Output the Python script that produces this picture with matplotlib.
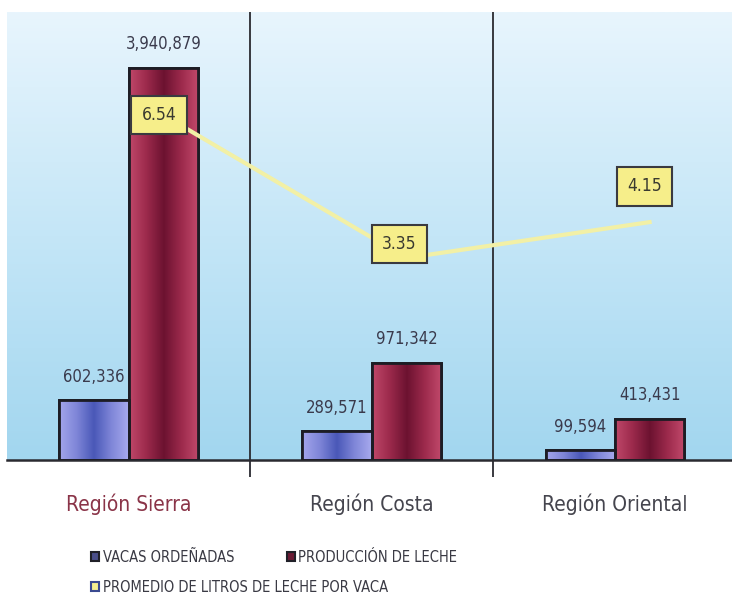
import numpy as np
import matplotlib
matplotlib.use("Agg")
import matplotlib.pyplot as plt
from matplotlib.colors import LinearSegmentedColormap
from matplotlib.patches import Patch

plt.rcParams['font.family'] = ['DejaVu Sans']
plt.rcParams['font.stretch'] = 'condensed'

categories = ["Región Sierra", "Región Costa", "Región Oriental"]
vacas = [602336, 289571, 99594]
produccion = [3940879, 971342, 413431]
promedio = [6.54, 3.35, 4.15]
vacas_labels = ["602,336", "289,571", "99,594"]
prod_labels = ["3,940,879", "971,342", "413,431"]
prom_labels = ["6.54", "3.35", "4.15"]
legend_row1 = ["VACAS ORDEÑADAS", "PRODUCCIÓN DE LECHE"]
legend_row2 = ["PROMEDIO DE LITROS DE LECHE POR VACA"]

W, H = 732, 599
fig = plt.figure(figsize=(W / 100, H / 100), dpi=100)
fig.patch.set_facecolor("white")
left_px, right_px, top_px, base_px = 7, 736.5, 12, 460
ax = fig.add_axes([left_px / W, (H - base_px) / H, (right_px - left_px) / W, (base_px - top_px) / H])
ax.set_xlim(-0.5, 2.5)
ax.set_ylim(0, 4.5e6)

bg = LinearSegmentedColormap.from_list("bg", ["#a2d6ef", "#c4e6f7", "#e8f5fd"])
grad = np.linspace(0, 1, 256).reshape(-1, 1)
ax.imshow(grad, cmap=bg, origin="lower", aspect="auto",
          extent=[-0.5, 2.5, 0, 4.5e6], zorder=0)

x = np.arange(len(categories))
bw = 0.285
blue_cm = LinearSegmentedColormap.from_list("b", ["#a4a6ec", "#7f86d8", "#4a58b8", "#7f86d8", "#a8aaee"])
red_cm = LinearSegmentedColormap.from_list("r", ["#c0486a", "#9c2a4c", "#6c1230", "#9c2a4c", "#c24a6c"])
hgrad = np.linspace(0, 1, 256).reshape(1, -1)

def gbars(xs, vals, cmap, base_color):
    bars = ax.bar(xs, vals, width=bw, color=base_color, edgecolor="#1c1c24",
                  linewidth=2, zorder=2)
    for b in bars:
        im = ax.imshow(hgrad, cmap=cmap, aspect="auto",
                       extent=[b.get_x(), b.get_x() + b.get_width(), 0, b.get_height()],
                       zorder=2.5)
        im.set_clip_path(b)
        ax.add_patch(plt.Rectangle((b.get_x(), 0), b.get_width(), b.get_height(),
                                   fill=False, edgecolor="#1c1c24", linewidth=2, zorder=3))
    return bars

gbars(x - bw / 2, vacas, blue_cm, "#7f86d8")
gbars(x + bw / 2, produccion, red_cm, "#9c2a4c")

for xi, v, lab in zip(x, vacas, vacas_labels):
    ax.annotate(lab, (xi - bw / 2, v), xytext=(0, 14), textcoords="offset pixels",
                ha="center", va="bottom", fontsize=12, color="#3a3a4c", zorder=6)
for xi, v, lab in zip(x, produccion, prod_labels):
    ax.annotate(lab, (xi + bw / 2, v), xytext=(0, 15), textcoords="offset pixels",
                ha="center", va="bottom", fontsize=12, color="#3a3a4c", zorder=6)

for s in [0.5, 1.5]:
    ax.axvline(s, color="#2a2a30", lw=1.3, zorder=1)
ax.set_xticks(x)
ax.set_xticklabels(categories, fontsize=15)
for lbl, c in zip(ax.get_xticklabels(), ["#8a3448", "#45454e", "#45454e"]):
    lbl.set_color(c)
ax.tick_params(axis="x", which="major", length=0, pad=24)
ax.set_xticks([0.5, 1.5], minor=True)
ax.tick_params(axis="x", which="minor", length=12, width=1.3, color="#2a2a30", direction="out")
ax.set_yticks([])
for sp in ["left", "right", "top"]:
    ax.spines[sp].set_visible(False)
ax.spines["bottom"].set_color("#2a2a30")
ax.spines["bottom"].set_linewidth(1.8)

ax2 = ax.twinx()
ax2.set_ylim(-1.156, 8.837)
ax2.set_yticks([])
for sp in ax2.spines.values():
    sp.set_visible(False)
ax2.plot(x + bw / 2, promedio, color="#f2f0a6", lw=3, zorder=4)
offs = [(-4, 0), (-7, 14), (-5, 36)]
for xi, v, lab, o in zip(x + bw / 2, promedio, prom_labels, offs):
    ax2.annotate(lab, (xi, v), xytext=o, textcoords="offset pixels",
                 ha="center", va="center", fontsize=12.5, color="#3a3a30", zorder=7,
                 bbox=dict(boxstyle="square,pad=0.6", fc="#f6ee8a", ec="#3a3a40", lw=1.5))

h1 = [Patch(fc="#4a4e8a", ec="#202028", lw=1.5),
      Patch(fc="#6a1a34", ec="#202028", lw=1.5)]
h2 = [Patch(fc="#f4ee90", ec="#3a4a90", lw=1.5)]
common = dict(frameon=False, fontsize=10.5, handlelength=0.55, handleheight=0.55,
              handletextpad=0.25, borderpad=0, borderaxespad=0)
leg1 = fig.legend(h1, legend_row1, ncol=2, loc="center left",
                  bbox_to_anchor=(91 / W, 1 - 557 / H), columnspacing=3.6, **common)
leg2 = fig.legend(h2, legend_row2, ncol=1, loc="center left",
                  bbox_to_anchor=(91 / W, 1 - 587 / H), **common)
for lg in (leg1, leg2):
    for t in lg.get_texts():
        t.set_color("#3a3a44")

fig.savefig("out.png", dpi=100)
